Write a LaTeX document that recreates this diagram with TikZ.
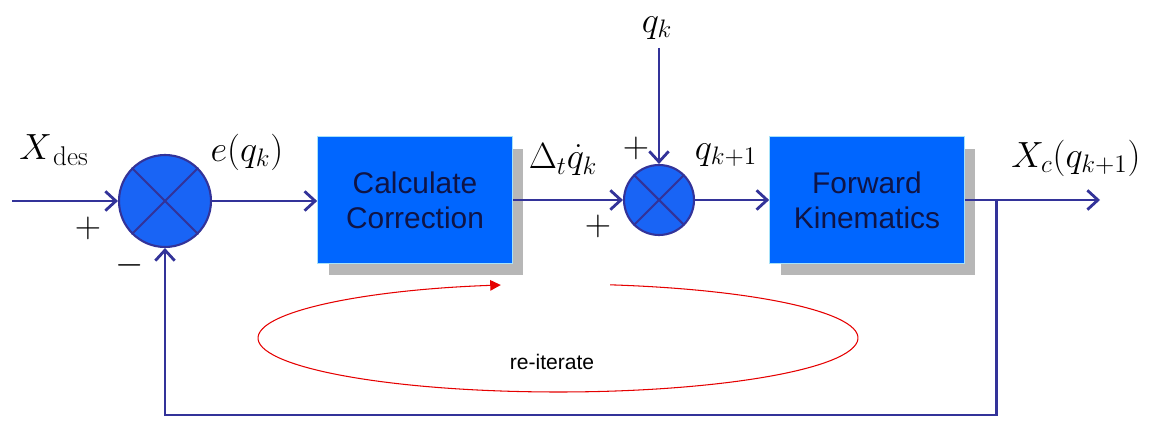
\documentclass[tikz,border=0pt]{standalone}
\usepackage{fontspec}
\newfontfamily\arialfont{Liberation Sans}
\usetikzlibrary{positioning, calc, arrows.meta, shadows}

\definecolor{linec}{RGB}{51,51,153}
\definecolor{boxc}{RGB}{0,102,255}
\definecolor{sumc}{RGB}{25,100,245}
\definecolor{shadc}{RGB}{183,183,183}
\definecolor{txtc}{RGB}{15,20,70}

\begin{document}
\begin{tikzpicture}[
    x=0.02cm, y=-0.02cm,
    >={Straight Barb[length=6pt, width=11pt]},
    blk/.style={fill=boxc, draw=cyan!35, line width=0.4pt, align=center, text=txtc,
        minimum width=3.9cm, minimum height=2.54cm,
        font=\arialfont\fontsize{17}{20}\selectfont,
        drop shadow={shadow xshift=0.22cm, shadow yshift=-0.24cm, fill=shadc, opacity=1}},
    summ/.style={circle, fill=sumc, draw=linec, line width=1.2pt, inner sep=0pt},
    sig/.style={draw=linec, line width=1.6pt},
    flow/.style={sig, ->},
    lbl/.style={font=\fontsize{22}{26}\selectfont, inner sep=1pt},
    sgn/.style={font=\fontsize{20}{24}\selectfont, inner sep=0pt},
    reit/.style={->, red!90!black, line width=0.6pt, >={Triangle[length=6pt, width=6pt]}},
]
\useasboundingbox (0,0) rectangle (1151,421);

\node[summ, minimum size=1.84cm] at (165,201) (s1) {};
\node[blk] at (415,200) (cc) {Calculate\\Correction};
\node[summ, minimum size=1.40cm] at (659,200) (s2) {};
\node[blk] at (867,200) (fk) {Forward\\Kinematics};

% crosses inside the summing junctions
\foreach \s in {s1, s2} {
    \draw[linec, line width=1.2pt] (\s.north east) -- (\s.south west);
    \draw[linec, line width=1.2pt] (\s.north west) -- (\s.south east);
}

\coordinate (xin)  at (12,201);
\coordinate (qtop) at (659,48);
\coordinate (xout) at (1100,200);
\coordinate (tap)  at ($(fk.east)+(32,0)$);
\coordinate (fbk)  at ($(tap)+(0,215)$);

\draw[flow] (xin) -- (s1.west);
\draw[flow] (s1.east) -- (s1.east -| cc.west);
\draw[flow] (cc.east |- s2.west) -- (s2.west);
\draw[flow] (qtop) -- (s2.north);
\draw[flow] (s2.east) -- (s2.east -| fk.west);
\draw[flow] (fk.east) -- (xout);
\draw[flow] (tap) -- (fbk) -| (s1.south);

% signal labels
\node[lbl] at (54,150)   {$X_{\,\mathrm{des}}$};
\node[lbl] at (247,152)  {$e(q_k)$};
\node[lbl] at (563,160)  {$\Delta_t\dot{q}_k$};
\node[lbl] at (657,28)   {$q_k$};
\node[lbl] at (726,155)  {$q_{k+1}$};
\node[lbl] at (1076,158) {$X_c(q_{k+1})$};

\node[sgn] at (88,228)  {$+$};
\node[sgn] at (130,265) {$-$};
\node[sgn] at (636,148) {$+$};
\node[sgn] at (598,226) {$+$};

% re-iterate loop
\coordinate (loopc) at (558,338);
\draw[reit] ($(loopc)+(80:6cm and 1.08cm)$) arc[start angle=80, end angle=-259, x radius=6cm, y radius=1.08cm];
\node[font=\arialfont\fontsize{12}{14}\selectfont] at (552,362) (rit) {re-iterate};

\end{tikzpicture}
\end{document}
